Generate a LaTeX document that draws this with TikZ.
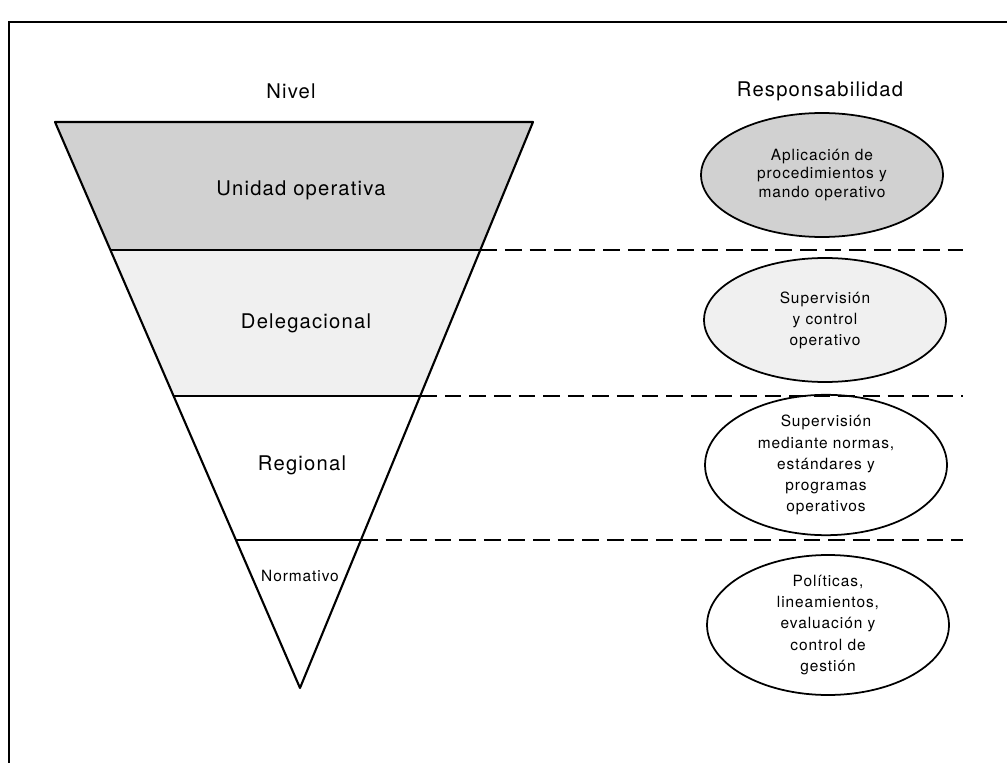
\documentclass[tikz,border=0pt]{standalone}
\usepackage{fontspec}
\setmainfont[LetterSpace=6]{TeX Gyre Heros}
\usetikzlibrary{shapes.geometric}

\begin{document}
\begin{tikzpicture}[x=0.02cm,y=-0.02cm,
    titulo/.style={font=\fontsize{11.5}{13}\selectfont},
    capa/.style={font=\fontsize{11.5}{13}\selectfont},
    resp/.style={ellipse,draw,line width=1pt,minimum width=4.84cm,minimum height=2.48cm,
      inner sep=0pt,align=center,font=\fontsize{8.8}{12}\selectfont},
    sep/.style={line width=0.9pt,dash pattern=on 9.5pt off 4.5pt}]
    \useasboundingbox (0,0) rectangle (1007,763);
    % marco
    \draw[line width=1pt] (9,763) -- (9,22) -- (1007,22);
    % triangulo invertido
    \coordinate (tl) at (55,122);
    \coordinate (tr) at (533,122);
    \coordinate (ap) at (300,688);
    \coordinate (l1) at (110.4,250); \coordinate (r1) at (480.3,250);
    \coordinate (l2) at (173.6,396); \coordinate (r2) at (420.2,396);
    \coordinate (l3) at (236.1,540); \coordinate (r3) at (360.9,540);
    \fill[black!18] (tl) -- (tr) -- (r1) -- (l1) -- cycle;
    \fill[black!6] (l1) -- (r1) -- (r2) -- (l2) -- cycle;
    \draw[line width=1.2pt,line join=round] (tl) -- (tr) -- (ap) -- cycle;
    \foreach \i in {1,2,3} \draw[line width=1pt] (l\i) -- (r\i);
    % lineas de separacion
    \coordinate (d1) at (963,250);
    \coordinate (d2) at (963,396);
    \coordinate (d3) at (963,540);
    \foreach \i in {1,2,3} \draw[sep] (r\i) -- (d\i);
    % encabezados
    \node[titulo] (nivel) at (291,91) {Nivel};
    \node[titulo] (respons) at (820,91) {Responsabilidad};
    % niveles
    \node[capa] (unidad) at (301,190) {Unidad operativa};
    \node[capa] (deleg) at (306,323) {Delegacional};
    \node[capa] (regional) at (302,465) {Regional};
    \node[font=\fontsize{8.8}{10}\selectfont] (normativo) at (300,576) {Normativo};
    % responsabilidades
    \node[resp,fill=black!18,font=\fontsize{8.8}{10.5}\selectfont] (e1) at (822,175)
      {Aplicación de\\procedimientos y\\mando operativo};
    \node[resp,fill=black!6] (e2) at (825,320) {Supervisión\\y control\\operativo};
    \node[resp] (e3) at (826,465) {Supervisión\\mediante normas,\\estándares y\\programas\\operativos};
    \node[resp] (e4) at (828,625) {Políticas,\\lineamientos,\\evaluación y\\control de\\gestión};
\end{tikzpicture}
\end{document}
